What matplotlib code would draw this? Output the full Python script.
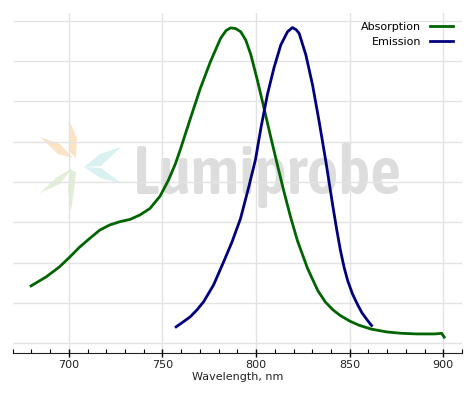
import matplotlib
matplotlib.use("Agg")
import matplotlib.pyplot as plt
from matplotlib import font_manager as fm
from matplotlib.patches import Polygon
from matplotlib.ticker import MultipleLocator

# spectra (normalised intensity)
abs_nm = [679.8, 687.9, 695.0, 700.4, 705.7, 711.1, 716.5, 721.9, 727.2, 732.6, 738.0, 743.3,
          748.7, 753.2, 756.8, 759.5, 764.9, 770.2, 775.6, 781.0, 784.0, 786.4, 789.0, 791.8,
          794.5, 797.2, 800.6, 804.2, 807.8, 811.4, 814.9, 818.5, 822.1, 827.5, 833.0, 837.0,
          841.0, 845.0, 850.0, 855.0, 861.5, 870.0, 877.6, 886.0, 895.5, 899.1, 900.5]
abs_val = [0.178, 0.206, 0.237, 0.267, 0.298, 0.325, 0.351, 0.367, 0.377, 0.384, 0.398, 0.418,
           0.456, 0.506, 0.555, 0.600, 0.697, 0.790, 0.873, 0.945, 0.970, 0.978, 0.976, 0.966,
           0.940, 0.895, 0.818, 0.730, 0.640, 0.553, 0.470, 0.390, 0.318, 0.232, 0.163, 0.128,
           0.104, 0.086, 0.069, 0.056, 0.044, 0.035, 0.031, 0.029, 0.029, 0.031, 0.019]

em_nm = [757.3, 760.5, 764.8, 768.5, 772.0, 777.3, 782.7, 787.2, 791.7, 796.1, 799.7, 802.5,
         806.0, 809.6, 813.2, 816.8, 819.4, 821.5, 823.0, 826.6, 830.2, 833.7, 837.3, 840.9,
         843.0, 845.0, 847.0, 849.0, 851.5, 854.3, 856.5, 859.0, 861.7]
em_val = [0.051, 0.064, 0.082, 0.104, 0.129, 0.181, 0.253, 0.315, 0.387, 0.485, 0.570, 0.665,
          0.770, 0.855, 0.925, 0.966, 0.979, 0.972, 0.961, 0.894, 0.800, 0.687, 0.563, 0.429,
          0.355, 0.290, 0.236, 0.193, 0.153, 0.119, 0.095, 0.075, 0.055]

grid_levels = [i * 0.125 for i in range(9)]

fig = plt.figure(figsize=(4.74, 3.95), dpi=100)
ax = fig.add_axes([0.0268, 0.1056, 0.9479, 0.8622])

# faded logo watermark
logo_px = [
    ([(69, 120), (77, 138), (76, 158), (70, 152)], "#fbe3c6"),
    ([(40, 137), (60, 144), (73, 158), (58, 154)], "#fbe3c6"),
    ([(121, 147), (100, 154), (84, 167), (101, 166)], "#d9f1f0"),
    ([(84, 167), (101, 168), (121, 183), (100, 178)], "#d9f1f0"),
    ([(40, 193), (56, 178), (72, 168), (60, 184)], "#e2eed5"),
    ([(70, 169), (76, 172), (74, 190), (71, 211), (68, 190)], "#e2eed5"),
]
for pts, col in logo_px:
    xy = [((px - 12.7) / 449.3, (353.3 - py) / 340.6) for px, py in pts]
    ax.add_patch(Polygon(xy, closed=True, transform=ax.transAxes,
                         facecolor=col, edgecolor="none", zorder=0))

# look for a narrow face for the wordmark
def stretch_val(s):
    table = {"ultra-condensed": 100, "extra-condensed": 200, "condensed": 300,
             "semi-condensed": 400, "normal": 500}
    if isinstance(s, str):
        return table.get(s, 500)
    return s

narrow = None
best = None
for f in fm.fontManager.ttflist:
    n = f.name.lower()
    if f.style != "normal":
        continue
    if "condensed" in n or "narrow" in n or stretch_val(f.stretch) < 500:
        w = f.weight if isinstance(f.weight, int) else 400
        score = abs(w - 600)
        if best is None or score < best:
            best = score
            narrow = f.fname

if narrow:
    wm_font = fm.FontProperties(fname=narrow)
else:
    wm_font = fm.FontProperties(family="DejaVu Sans", weight="bold")
wm = ax.text(0.268, 0.468, "Lumiprobe", transform=ax.transAxes, fontproperties=wm_font,
             fontsize=58, color="#dddddd", ha="left", va="baseline", zorder=0)
fig.canvas.draw()
wbox = wm.get_window_extent(fig.canvas.get_renderer())
if wbox.width > 269:
    wm.set_fontsize(58 * 269 / wbox.width)

ax.plot(abs_nm, abs_val, color="#006400", lw=2, label="Absorption", zorder=3)
ax.plot(em_nm, em_val, color="#00007f", lw=2, label="Emission", zorder=3)

ax.set_xlim(670, 910)
ax.set_ylim(-0.031, 1.025)
ax.set_yticks(grid_levels)
ax.xaxis.set_major_locator(MultipleLocator(50))
ax.xaxis.set_minor_locator(MultipleLocator(10))
ax.grid(True, color="#e3e3e3", lw=1)
ax.set_axisbelow(True)
ax.tick_params(axis="y", left=False, labelleft=False)
ax.tick_params(axis="x", which="major", direction="inout", length=6, width=1,
               labelsize=8, labelcolor="#222222", pad=1.5)
ax.tick_params(axis="x", which="minor", direction="in", length=3, width=0.8)
for side in ["top", "left", "right"]:
    ax.spines[side].set_visible(False)
ax.spines["bottom"].set_color("#222222")
ax.set_xlabel("Wavelength, nm", fontsize=8, color="#222222", labelpad=2)

ax.legend(loc="upper right", frameon=False, markerfirst=False, fontsize=8,
          handlelength=2.0, handletextpad=0.8, labelspacing=0.45, borderaxespad=0.45)

fig.savefig("out.png", dpi=100)
